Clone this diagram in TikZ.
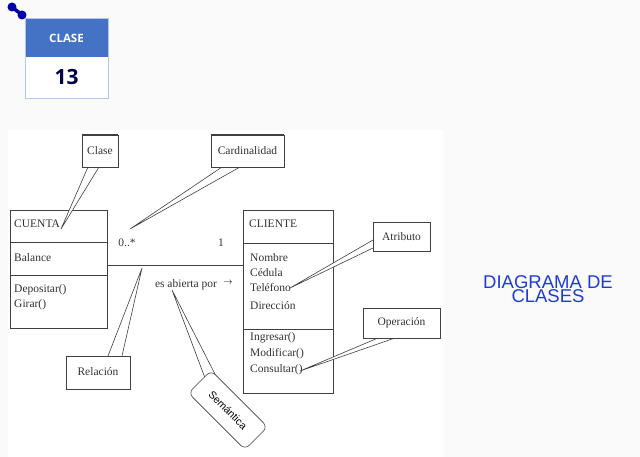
\documentclass[tikz,border=0pt]{standalone}
\usepackage{fontspec}
\setmainfont{Liberation Serif}
\newfontfamily\sansf{Liberation Sans}
\newfontfamily\opens{Open Sans}
\definecolor{hdr}{RGB}{68,114,196}
\definecolor{ttl}{RGB}{30,60,210}
\begin{document}
\begin{tikzpicture}[x=1pt,y=-1pt,
 box/.style={draw=black!75,line width=0.6pt,fill=white},
 txt/.style={anchor=west,inner sep=0pt,font=\fontsize{11.5}{12}\selectfont,text=black!80},
 call/.style={draw=black!75,line width=0.6pt,fill=white},
 lbl/.style={font=\fontsize{11.5}{12}\selectfont,text=black!80}]
\useasboundingbox (0,0) rectangle (640,457);
\fill[black!2] (0,0) rectangle (640,457);
\fill[white] (8,130) rectangle (443,457);
% badge
\fill[hdr] (25,18) rectangle (108,57);
\fill[white] (25,57) rectangle (108,98);
\draw[hdr!40,line width=0.6pt] (25,18) rectangle (108,98);
\node[text=white,font=\opens\bfseries\fontsize{11.5}{12}\selectfont] (clase) at (66.5,38) {CLASE};
\node[text=blue!30!black,font=\opens\bfseries\fontsize{21}{22}\selectfont] (num) at (66.5,77) {13};
\fill[blue!65!black] (12,7) circle (4.5);
\draw[blue!65!black,line width=3.5pt,line cap=round] (13,8) -- (21,14);
\fill[blue!65!black] (22,15) circle (4.5);
% classes
\draw[box] (10,210) rectangle (107,328);
\draw[black!75,line width=0.6pt] (10,242) -- (107,242) (10,275) -- (107,275);
\node[txt] (cuenta) at (14,224) {CUENTA};
\node[txt] (bal) at (14,258) {Balance};
\node[txt] (dep) at (14,290) {Depositar()};
\node[txt] (gir) at (14,305) {Girar()};
\draw[box] (243,210) rectangle (333,393);
\draw[black!75,line width=0.6pt] (243,243) -- (333,243) (243,329) -- (333,329);
\node[txt] (cli) at (249,224) {CLIENTE};
\node[txt] (nom) at (250,258) {Nombre};
\node[txt] (ced) at (250,273) {Cédula};
\node[txt] (tel) at (250,288) {Teléfono};
\node[txt] (dir) at (250,306) {Dirección};
\node[txt] (ing) at (250,338) {Ingresar()};
\node[txt] (mod) at (250,354) {Modificar()};
\node[txt] (con) at (250,370) {Consultar()};
\coordinate (aL) at (107,265);
\coordinate (aR) at (243,265);
\draw[black!75,line width=0.6pt] (aL) -- (aR);
\node[lbl] (mult1) at (127,243) {0..*};
\node[lbl] (mult2) at (221,243) {1};
\node[lbl] (sem) at (186,285) {es abierta por};
\node[font=\fontsize{9}{9}\selectfont] (arr) at (228,283) {$\rightarrow$};
% callouts
\coordinate (t1) at (61,229);
\draw[call] (88,167) -- (t1) -- (99,167);
\draw[call] (82,135) rectangle (118,167); \draw[black!75,line width=1.4pt] (82,135) -- (118,135);
\node[lbl] (cclase) at (100,151) {Clase};
\coordinate (t2) at (130,229);
\draw[call] (222,167) -- (t2) -- (240,167);
\draw[call] (211,135) rectangle (284,167); \draw[black!75,line width=1.4pt] (211,135) -- (284,135);
\node[lbl] (ccard) at (247.5,151) {Cardinalidad};
\coordinate (t3) at (290,288);
\draw[call] (373,240) -- (t3) -- (373,248);
\draw[call] (373,222) rectangle (430,251);
\node[lbl] (cattr) at (401.5,237) {Atributo};
\coordinate (t4) at (300,371);
\draw[call] (378,338) -- (t4) -- (395,338);
\draw[call] (363,308) rectangle (440,338);
\node[lbl] (cop) at (401.5,323) {Operación};
\coordinate (t5) at (142,268);
\draw[call] (108,356) -- (t5) -- (122,356);
\draw[call] (66,356) rectangle (130,389);
\node[lbl] (crel) at (98,372) {Relación};
\coordinate (t6) at (172,290);
\draw[call] (208,386) -- (t6) -- (218,380);
\begin{scope}[y=1pt]
\node[call,rounded corners=6pt,rotate=-45,minimum width=80pt,minimum height=32pt,font=\sansf\fontsize{10.5}{11}\selectfont] (csem) at (228,-410) {Semántica};
\end{scope}
% title
\node[align=center,text=ttl,font=\sansf\fontsize{18.5}{14}\selectfont] (title) at (548,289) {DIAGRAMA DE\\CLASES};
\end{tikzpicture}
\end{document}
